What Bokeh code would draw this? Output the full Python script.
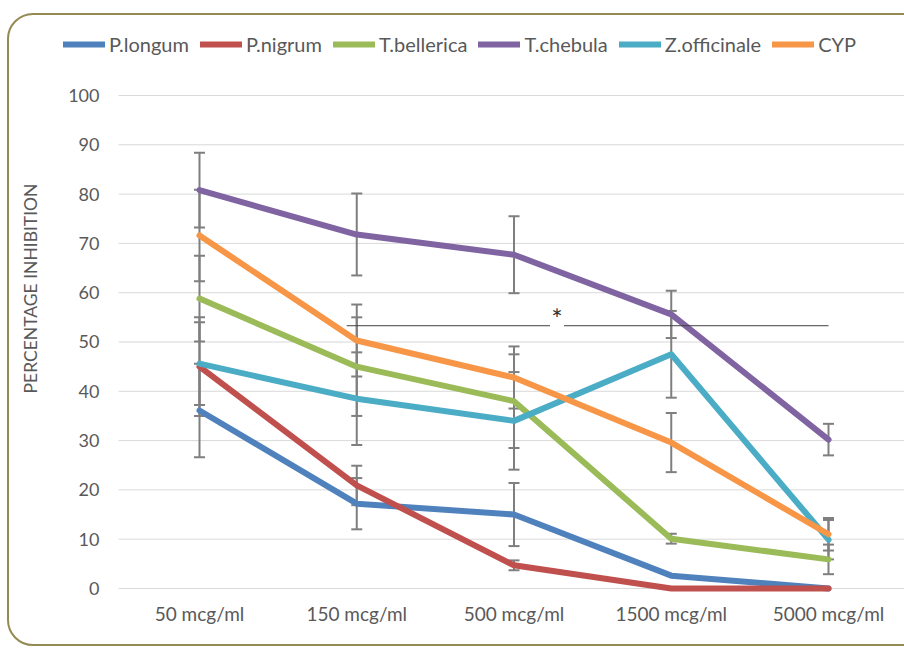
from bokeh.plotting import figure
from bokeh.models import Legend, LegendItem, Label, InlineStyleSheet
from bokeh.core.properties import value
from bokeh.embed import file_html
from bokeh.resources import INLINE
import math

categories = ["50 mcg/ml", "150 mcg/ml", "500 mcg/ml", "1500 mcg/ml", "5000 mcg/ml"]
x_pos = [0, 1, 2, 3, 4]

series_names = ["P.longum", "P.nigrum", "T.bellerica", "T.chebula", "Z.officinale", "CYP"]
p_longum = [36.1, 17.2, 15.0, 2.6, 0.0]
p_nigrum = [45.0, 20.9, 4.7, 0.0, 0.0]
t_bellerica = [58.8, 45.0, 38.0, 10.1, 5.9]
t_chebula = [80.8, 71.8, 67.7, 55.6, 30.2]
z_officinale = [45.6, 38.5, 34.0, 47.5, 9.9]
cyp = [71.6, 50.3, 42.8, 29.6, 11.0]

err_longum = [9.5, 5.2, 6.4, 0.0, 0.0]
err_nigrum = [10.0, 4.0, 1.0, 0.0, 0.0]
err_bellerica = [8.7, 10.0, 9.5, 1.0, 3.0]
err_chebula = [7.6, 8.3, 7.8, 4.8, 3.2]
err_officinale = [8.4, 9.4, 9.9, 8.8, 4.0]
err_cyp = [9.3, 7.3, 6.3, 6.0, 3.3]

y_ticks = [0, 10, 20, 30, 40, 50, 60, 70, 80, 90, 100]
y_tick_labels = [str(t) for t in y_ticks]
y_title = "PERCENTAGE INHIBITION"

# significance bracket (x in category index units, y in %)
sig_y = 53.3
sig_left_x = [0.936, 2.229]
sig_right_x = [2.318, 4.0]
sig_star_x = 2.274

colors = ["#4F81BD", "#C0504D", "#9BBB59", "#8064A2", "#4BACC6", "#F79646"]
values = [p_longum, p_nigrum, t_bellerica, t_chebula, z_officinale, cyp]
errors = [err_longum, err_nigrum, err_bellerica, err_chebula, err_officinale, err_cyp]

FONT = "Lato"
TXT = "#595959"

# layout constants (data units of the single full-canvas frame)
X_START, X_END = -1.2655, 4.4833
Y_START, Y_END = -12.58, 119.27
GRID_X0 = -0.515
YLAB_X = -0.636
XLAB_Y = -5.07
YTITLE_X, YTITLE_Y = -1.075, 60.85

border_css = InlineStyleSheet(css="""
:host { position: relative; }
:host::after {
  content: ""; position: absolute; left: 7px; top: 13px; width: 930px; height: 633px;
  border: 2px solid #948A54; border-radius: 26px; pointer-events: none; box-sizing: border-box;
}
""")

p = figure(width=904, height=650, x_range=(X_START, X_END), y_range=(Y_START, Y_END),
           output_backend="svg", toolbar_location=None,
           min_border_left=0, min_border_right=0, min_border_top=0, min_border_bottom=0,
           stylesheets=[border_css])
p.outline_line_color = None
p.background_fill_color = "white"
p.border_fill_color = "white"
p.xaxis.visible = False
p.yaxis.visible = False
p.xgrid.grid_line_color = None
p.ygrid.grid_line_color = None

# gridlines
p.segment([GRID_X0] * len(y_ticks), y_ticks, [X_END] * len(y_ticks), y_ticks,
          line_color="#D9D9D9", line_width=1)

# tick labels
p.text([YLAB_X] * len(y_ticks), y_ticks, text=y_tick_labels, text_font=value(FONT),
       text_font_size="18px", text_color=TXT, text_align="right", text_baseline="middle")
p.text(x_pos, [XLAB_Y] * len(x_pos), text=categories, text_font=value(FONT),
       text_font_size="19px", text_color=TXT, text_align="center", text_baseline="middle")
p.text([YTITLE_X], [YTITLE_Y], text=[y_title], angle=math.pi / 2, text_font=value(FONT),
       text_font_size="17.5px", text_color=TXT, text_align="center", text_baseline="middle")

# error bars
for vals, errs in zip(values, errors):
    xs = [x for x, e in zip(x_pos, errs) if e > 0]
    los = [v - e for v, e in zip(vals, errs) if e > 0]
    his = [v + e for v, e in zip(vals, errs) if e > 0]
    p.segment(xs, los, xs, his, line_color="#7F7F7F", line_width=2)
    p.dash(xs, los, size=11, line_color="#7F7F7F", line_width=2)
    p.dash(xs, his, size=11, line_color="#7F7F7F", line_width=2)

items = []
for name, vals, col in zip(series_names, values, colors):
    r = p.line(x_pos, vals, line_color=col, line_width=6, line_cap="round", line_join="round")
    items.append(LegendItem(label=name, renderers=[r]))

# significance line
p.line(sig_left_x, [sig_y, sig_y], line_color="#404040", line_width=1)
p.line(sig_right_x, [sig_y, sig_y], line_color="#404040", line_width=1)
p.add_layout(Label(x=sig_star_x, y=sig_y, text="*", text_font=FONT, text_font_size="27px",
                   text_color="#303030", text_align="center", text_baseline="bottom", y_offset=-9))

legend = Legend(items=items, orientation="horizontal", location=(63, 594),
                label_text_font=FONT, label_text_font_size="20px", label_text_color=TXT,
                glyph_width=42, glyph_height=16, label_height=20, spacing=11, label_standoff=4,
                padding=0, margin=0, border_line_color=None, background_fill_alpha=0)
p.add_layout(legend, "center")

open("out.html", "w").write(file_html(p, INLINE))
